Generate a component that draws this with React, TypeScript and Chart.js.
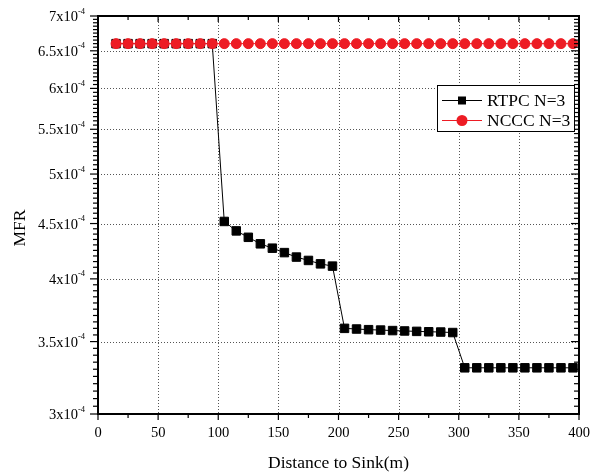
import React, { useEffect, useRef } from 'react';
import { Chart, registerables } from 'chart.js';

Chart.register(...registerables);

// ---- data ----
const xDistances = [
  15, 25, 35, 45, 55, 65, 75, 85, 95,
  105, 115, 125, 135, 145, 155, 165, 175, 185, 195,
  205, 215, 225, 235, 245, 255, 265, 275, 285, 295,
  305, 315, 325, 335, 345, 355, 365, 375, 385, 395,
];
const rtpcValues = [
  6.6e-4, 6.6e-4, 6.6e-4, 6.6e-4, 6.6e-4, 6.6e-4, 6.6e-4, 6.6e-4, 6.6e-4,
  4.52e-4, 4.43e-4, 4.37e-4, 4.31e-4, 4.27e-4, 4.23e-4, 4.19e-4, 4.16e-4, 4.13e-4, 4.11e-4,
  3.6e-4, 3.595e-4, 3.59e-4, 3.587e-4, 3.583e-4, 3.58e-4, 3.577e-4, 3.574e-4, 3.572e-4, 3.568e-4,
  3.31e-4, 3.31e-4, 3.31e-4, 3.31e-4, 3.31e-4, 3.31e-4, 3.31e-4, 3.31e-4, 3.31e-4, 3.31e-4,
];
const ncccValues = [
  6.6e-4, 6.6e-4, 6.6e-4, 6.6e-4, 6.6e-4, 6.6e-4, 6.6e-4, 6.6e-4, 6.6e-4,
  6.6e-4, 6.6e-4, 6.6e-4, 6.6e-4, 6.6e-4, 6.6e-4, 6.6e-4, 6.6e-4, 6.6e-4, 6.6e-4,
  6.6e-4, 6.6e-4, 6.6e-4, 6.6e-4, 6.6e-4, 6.6e-4, 6.6e-4, 6.6e-4, 6.6e-4, 6.6e-4,
  6.6e-4, 6.6e-4, 6.6e-4, 6.6e-4, 6.6e-4, 6.6e-4, 6.6e-4, 6.6e-4, 6.6e-4, 6.6e-4,
];
const seriesNames = ['RTPC N=3', 'NCCC N=3'];
const xTicks = [0, 50, 100, 150, 200, 250, 300, 350, 400];
const xTickLabels = ['0', '50', '100', '150', '200', '250', '300', '350', '400'];
const yTicks = [3e-4, 3.5e-4, 4e-4, 4.5e-4, 5e-4, 5.5e-4, 6e-4, 6.5e-4, 7e-4];
const yTickMantissas = ['3', '3.5', '4', '4.5', '5', '5.5', '6', '6.5', '7'];
const yTickExponent = '-4';
const xTitle = 'Distance to Sink(m)';
const yTitle = 'MFR';

const FONT = '"Liberation Serif", "Times New Roman", serif';
const RED = 'rgb(237,28,36)';

const axesPlugin = {
  id: 'originAxes',
  beforeDatasetsDraw(chart: any) {
    const { ctx, chartArea: a, scales } = chart;
    const xs = scales.x;
    const ys = scales.y;
    ctx.save();
    ctx.strokeStyle = '#555';
    ctx.lineWidth = 1;
    ctx.setLineDash([1, 2]);
    xTicks.forEach((v) => {
      const px = Math.round(xs.getPixelForValue(v)) + 0.5;
      ctx.beginPath();
      ctx.moveTo(px, a.top);
      ctx.lineTo(px, a.bottom);
      ctx.stroke();
    });
    yTicks.forEach((v) => {
      const py = Math.round(ys.getPixelForValue(v)) + 0.5;
      ctx.beginPath();
      ctx.moveTo(a.left, py);
      ctx.lineTo(a.right, py);
      ctx.stroke();
    });
    ctx.restore();
  },
  afterDraw(chart: any) {
    const { ctx, chartArea: a, scales } = chart;
    const xs = scales.x;
    const ys = scales.y;
    ctx.save();
    ctx.setLineDash([]);
    ctx.strokeStyle = '#000';
    // frame
    ctx.lineWidth = 2;
    ctx.strokeRect(a.left, a.top, a.right - a.left, a.bottom - a.top);
    ctx.lineWidth = 1.2;
    // x ticks (bottom outward, top inward)
    const drawV = (px: number, y0: number, y1: number) => {
      ctx.beginPath();
      ctx.moveTo(px, y0);
      ctx.lineTo(px, y1);
      ctx.stroke();
    };
    const drawH = (py: number, x0: number, x1: number) => {
      ctx.beginPath();
      ctx.moveTo(x0, py);
      ctx.lineTo(x1, py);
      ctx.stroke();
    };
    for (let i = 0; i < xTicks.length; i++) {
      const px = xs.getPixelForValue(xTicks[i]);
      drawV(px, a.bottom, a.bottom + 6);
      drawV(px, a.top, a.top + 6);
      if (i < xTicks.length - 1) {
        const mx = xs.getPixelForValue((xTicks[i] + xTicks[i + 1]) / 2);
        drawV(mx, a.bottom, a.bottom + 4);
        drawV(mx, a.top, a.top + 4);
      }
    }
    // y ticks (left outward, right inward)
    for (let i = 0; i < yTicks.length; i++) {
      const py = ys.getPixelForValue(yTicks[i]);
      drawH(py, a.left - 8, a.left);
      drawH(py, a.right - 8, a.right);
      if (i < yTicks.length - 1) {
        const step = (yTicks[i + 1] - yTicks[i]) / 10;
        for (let k = 1; k < 10; k++) {
          const my = ys.getPixelForValue(yTicks[i] + k * step);
          drawH(my, a.left - 5, a.left);
          drawH(my, a.right - 5, a.right);
        }
      }
    }
    // x tick labels
    ctx.fillStyle = '#000';
    ctx.font = `14.5px ${FONT}`;
    ctx.textAlign = 'center';
    ctx.textBaseline = 'middle';
    xTicks.forEach((v, i) => {
      ctx.fillText(xTickLabels[i], xs.getPixelForValue(v), a.bottom + 19);
    });
    // y tick labels with superscript exponent
    const labelRight = a.left - 13;
    yTicks.forEach((v, i) => {
      const py = ys.getPixelForValue(v);
      ctx.font = `8.5px ${FONT}`;
      const supW = ctx.measureText(yTickExponent).width;
      ctx.textAlign = 'left';
      ctx.textBaseline = 'alphabetic';
      ctx.fillText(yTickExponent, labelRight - supW, py - 2.5);
      ctx.font = `14.5px ${FONT}`;
      ctx.textAlign = 'right';
      ctx.fillText(`${yTickMantissas[i]}x10`, labelRight - supW, py + 5);
    });
    // axis titles
    ctx.font = `17.5px ${FONT}`;
    ctx.textAlign = 'center';
    ctx.textBaseline = 'middle';
    ctx.fillText(xTitle, (a.left + a.right) / 2, 463);
    ctx.save();
    ctx.translate(20, 228);
    ctx.rotate(-Math.PI / 2);
    ctx.fillText(yTitle, 0, 0);
    ctx.restore();
    // legend
    const lx = 437, ly = 85, lw = 137, lh = 46;
    ctx.fillStyle = '#fff';
    ctx.fillRect(lx, ly, lw, lh);
    ctx.strokeStyle = '#000';
    ctx.lineWidth = 1;
    ctx.strokeRect(lx + 0.5, ly + 0.5, lw, lh);
    const rows = [
      { name: seriesNames[0], color: '#000', shape: 'rect', y: 100 },
      { name: seriesNames[1], color: RED, shape: 'circle', y: 120 },
    ];
    rows.forEach((r) => {
      ctx.strokeStyle = r.color;
      ctx.lineWidth = 1;
      ctx.beginPath();
      ctx.moveTo(442, r.y + 0.5);
      ctx.lineTo(482, r.y + 0.5);
      ctx.stroke();
      ctx.fillStyle = r.color;
      if (r.shape === 'rect') {
        ctx.fillRect(458, r.y - 3.5, 8, 8);
      } else {
        ctx.beginPath();
        ctx.arc(462, r.y + 0.5, 5.5, 0, Math.PI * 2);
        ctx.fill();
      }
      ctx.fillStyle = '#000';
      ctx.font = `17.5px ${FONT}`;
      ctx.textAlign = 'left';
      ctx.textBaseline = 'middle';
      ctx.fillText(r.name, 487, r.y + 1);
    });
    ctx.restore();
  },
};

export default function App() {
  const canvasRef = useRef<HTMLCanvasElement | null>(null);

  useEffect(() => {
    document.body.style.margin = '0';
    const canvas = canvasRef.current;
    if (!canvas) return;
    const chart = new Chart(canvas, {
      type: 'line',
      data: {
        datasets: [
          {
            label: seriesNames[0],
            data: xDistances.map((x, i) => ({ x, y: rtpcValues[i] })),
            borderColor: '#000',
            backgroundColor: '#000',
            borderWidth: 1,
            pointStyle: 'rect',
            pointRadius: 6,
            pointBorderWidth: 1,
            pointBorderColor: '#000',
            pointBackgroundColor: '#000',
            order: 1,
            clip: false as any,
          },
          {
            label: seriesNames[1],
            data: xDistances.map((x, i) => ({ x, y: ncccValues[i] })),
            borderColor: RED,
            backgroundColor: RED,
            borderWidth: 1,
            pointStyle: 'circle',
            pointRadius: 5,
            pointBorderWidth: 1,
            pointBorderColor: RED,
            pointBackgroundColor: RED,
            order: 0,
            clip: false as any,
          },
        ],
      },
      options: {
        animation: false,
        responsive: false,
        devicePixelRatio: 1,
        layout: { padding: { top: 16, right: 19, left: 0, bottom: 0 } },
        plugins: {
          legend: { display: false },
          tooltip: { enabled: false },
        },
        scales: {
          x: {
            type: 'linear',
            min: 0,
            max: 400,
            ticks: { display: false },
            grid: { display: false },
            border: { display: false },
            afterFit: (s: any) => {
              s.height = 61;
            },
          },
          y: {
            type: 'logarithmic',
            min: 3e-4,
            max: 7e-4,
            ticks: { display: false },
            grid: { display: false },
            border: { display: false },
            afterFit: (s: any) => {
              s.width = 98;
            },
          },
        },
      },
      plugins: [axesPlugin],
    });
    return () => chart.destroy();
  }, []);

  return (
    <div style={{ width: 598, height: 475 }}>
      <canvas ref={canvasRef} width={598} height={475} />
    </div>
  );
}
